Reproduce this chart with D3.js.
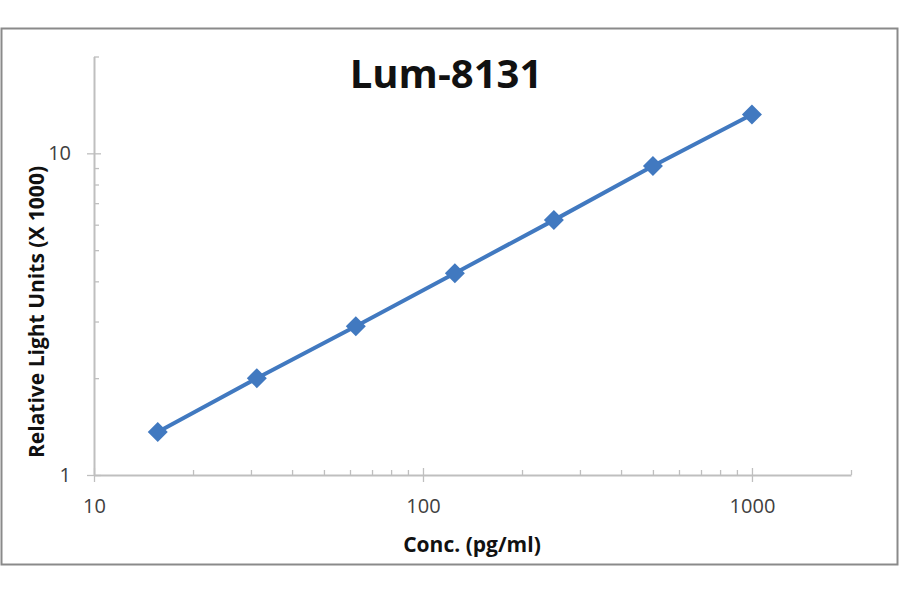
<!DOCTYPE html>
<html>
<head>
<meta charset="utf-8">
<script src="https://cdn.jsdelivr.net/npm/d3@7"></script>
<style>
    html, body { margin: 0; padding: 0; background: #fff; }
    svg { display: block; }
</style>
</head>
<body>
<div id="chart"></div>
<script>
// standard curve data
var concentrations = [15.625, 31.25, 62.5, 125, 250, 500, 1000];
var lightUnits = [1.36, 2.0, 2.9, 4.24, 6.2, 9.13, 13.2];
var xMajorTicks = [10, 100, 1000];
var yMajorTicks = [1, 10];
var xDomain = [10, 2000];
var yDomain = [1, 20];
var chartTitle = "Lum-8131";
var xTitle = "Conc. (pg/ml)";
var yTitle = "Relative Light Units (X 1000)";

function _minorTicks(domain, majors) {
    var result = [];
    var lo = Math.floor(Math.log10(domain[0])),
        hi = Math.ceil(Math.log10(domain[1]));
    for (var p = lo; p <= hi; p++) {
        for (var m = 1; m < 10; m++) {
            var v = m * Math.pow(10, p);
            if (v >= domain[0] && v <= domain[1] && majors.indexOf(v) < 0) {
                result.push(v);
            }
        }
    }
    return result;
}

var width = 900,
    height = 594,
    axisColor = "#bfbfbf",
    labelColor = "#404040",
    lineColor = "#4179c0";

var svg = d3.select("#chart").append("svg")
    .attr("width", width)
    .attr("height", height);

// outer frame
svg.append("rect")
    .attr("x", 1.5)
    .attr("y", 28.5)
    .attr("width", 896)
    .attr("height", 536)
    .attr("fill", "#fff")
    .attr("stroke", "#8a8a8a")
    .attr("stroke-width", 2);

var x = d3.scaleLog().domain(xDomain).range([94, 851]);
var y = d3.scaleLog().domain(yDomain).range([475, 56.5]);

// x axis - minor ticks point inward
svg.append("g")
    .attr("class", "x-minor")
    .attr("transform", "translate(0," + y(yDomain[0]) + ")")
    .call(d3.axisTop(x).tickValues(_minorTicks(xDomain, xMajorTicks)).tickSize(5).tickFormat(""))
    .call(function (g) { g.select(".domain").remove(); });

var xAxis = svg.append("g")
    .attr("class", "x-axis")
    .attr("transform", "translate(0," + y(yDomain[0]) + ")")
    .call(d3.axisBottom(x).tickValues(xMajorTicks).tickSize(7).tickSizeOuter(0).tickPadding(17)
        .tickFormat(d3.format("d")));

xAxis.selectAll(".tick line").attr("y1", -7);

// y axis
svg.append("g")
    .attr("class", "y-minor")
    .attr("transform", "translate(" + x(xDomain[0]) + ",0)")
    .call(d3.axisRight(y).tickValues(_minorTicks(yDomain, yMajorTicks)).tickSize(5).tickFormat(""))
    .call(function (g) { g.select(".domain").remove(); });

var yAxis = svg.append("g")
    .attr("class", "y-axis")
    .attr("transform", "translate(" + x(xDomain[0]) + ",0)")
    .call(d3.axisLeft(y).tickValues(yMajorTicks).tickSize(7).tickSizeOuter(0).tickPadding(16)
        .tickFormat(d3.format("d")));

yAxis.selectAll(".tick line").attr("x1", 7);

svg.selectAll(".x-minor line, .y-minor line, .x-axis line, .y-axis line")
    .attr("stroke", axisColor)
    .attr("stroke-width", 1.3);
svg.selectAll(".x-axis .domain, .y-axis .domain")
    .attr("stroke", axisColor)
    .attr("stroke-width", 2);
svg.selectAll(".x-axis text, .y-axis text")
    .attr("fill", labelColor)
    .attr("font-family", "Open Sans")
    .attr("font-size", "20px");

// curve
var line = d3.line()
    .x(function (d) { return x(d[0]); })
    .y(function (d) { return y(d[1]); });

var points = concentrations.map(function (c, i) {
    return [c, lightUnits[i]];
});

svg.append("path")
    .datum(points)
    .attr("d", line)
    .attr("fill", "none")
    .attr("stroke", lineColor)
    .attr("stroke-width", 4);

svg.selectAll(".marker")
    .data(points)
    .enter()
    .append("path")
    .attr("class", "marker")
    .attr("d", d3.symbol().type(d3.symbolSquare).size(200))
    .attr("transform", function (d) {
        return "translate(" + x(d[0]) + "," + y(d[1]) + ") rotate(45)";
    })
    .attr("fill", lineColor);

// titles
svg.append("text")
    .attr("x", 446)
    .attr("y", 88)
    .attr("text-anchor", "middle")
    .attr("font-family", "Open Sans")
    .attr("font-weight", "bold")
    .attr("font-size", "40px")
    .attr("fill", "#111")
    .text(chartTitle);

svg.append("text")
    .attr("x", 472)
    .attr("y", 552)
    .attr("text-anchor", "middle")
    .attr("font-family", "Open Sans")
    .attr("font-weight", "bold")
    .attr("font-size", "21px")
    .attr("fill", "#111")
    .text(xTitle);

svg.append("text")
    .attr("transform", "translate(44,312) rotate(-90)")
    .attr("text-anchor", "middle")
    .attr("font-family", "Open Sans")
    .attr("font-weight", "bold")
    .attr("font-size", "21px")
    .attr("fill", "#111")
    .text(yTitle);
</script>
</body>
</html>
